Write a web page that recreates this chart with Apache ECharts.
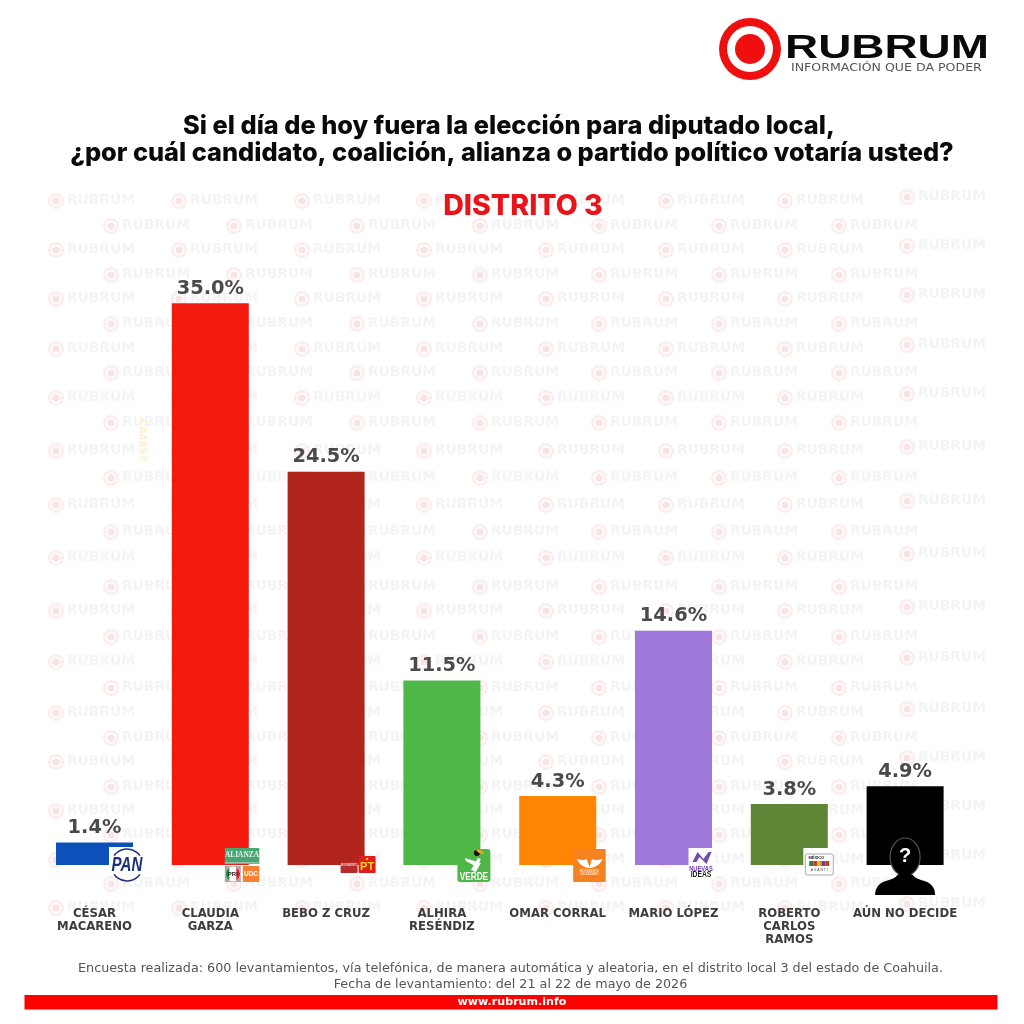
<!DOCTYPE html>
<html><head><meta charset="utf-8">
<style>html,body{margin:0;padding:0;background:#fff}#c{width:1024px;height:1024px}</style>
<script src="https://cdn.jsdelivr.net/npm/echarts@6/dist/echarts.min.js"></script>
</head><body><div id="c"></div>
<script>
const categories = ['CÉSAR\nMACARENO','CLAUDIA\nGARZA','BEBO Z CRUZ','ALHIRA\nRESÉNDIZ','OMAR CORRAL','MARIO LÓPEZ','ROBERTO\nCARLOS\nRAMOS','AÚN NO DECIDE'];
const values = [1.4,35.0,24.5,11.5,4.3,14.6,3.8,4.9];
const barColors = ['#0d50b9','#f3190e','#b1251c','#4fb748','#ff8502','#9f79da','#5f8636','#000000'];
const logoKinds = ['pan','alianza','pt','verde','mc','ni','avanti','person'];
const titleLine1 = 'Si el día de hoy fuera la elección para diputado local,';
const titleLine2 = '¿por cuál candidato, coalición, alianza o partido político votaría usted?';
const subtitleText = 'DISTRITO 3';
const footerText = 'Encuesta realizada: 600 levantamientos, vía telefónica, de manera automática y aleatoria, en el distrito local 3 del estado de Coahuila.\nFecha de levantamiento: del 21 al 22 de mayo de 2026';
const urlText = 'www.rubrum.info';

const wmRowsA = [201,250,299,349,398,451,505,558,611,662,713,762,811,860,908];
const wmRowsB = [226,275,324,373,423,478,532,587,637,688,738,787,835,884];
const wmColsA = [56,179,302,424,546,666,785,907];
const wmColsB = [111,234,357,480,599,719,839];

const W = 'DejaVu Sans';
function wm(x,y){
  return [
    {type:'circle',silent:true,shape:{cx:x,cy:y,r:6.8},style:{fill:'none',stroke:'#fdecec',lineWidth:2.4}},
    {type:'circle',silent:true,shape:{cx:x,cy:y,r:3.6},style:{fill:'#fbe3e3'}},
    {type:'text',silent:true,x:x+11,y:y-1,style:{text:'RUBRUM',fill:'#f4f4f4',font:'bold 13.8px "'+W+'"',verticalAlign:'middle',align:'left'}}
  ];
}
const bg = [];
wmRowsA.forEach(y=>wmColsA.forEach((x,i)=>bg.push(...wm(x,i===7?y-4:y))));
wmRowsB.forEach(y=>wmColsB.forEach(x=>bg.push(...wm(x,y))));

const header = [
  {type:'circle',shape:{cx:750,cy:49,r:31},style:{fill:'#f00f0f'},z:5},
  {type:'circle',shape:{cx:750,cy:49,r:23},style:{fill:'#fff'},z:5},
  {type:'circle',shape:{cx:750,cy:49,r:15},style:{fill:'#f00f0f'},z:5},
  {type:'text',x:785,y:49,scaleX:1.35,z:5,style:{text:'RUBRUM',fill:'#0a0a0a',font:'bold 34px "Liberation Sans"',verticalAlign:'middle',align:'left'}},
  {type:'text',x:791,y:68,scaleX:1.31,z:5,style:{text:'INFORMACIÓN QUE DA PODER',fill:'#555',font:'9.6px "'+W+'"',verticalAlign:'middle',align:'left'}},
  {type:'text',x:142,y:440,rotation:-Math.PI/2,style:{text:'CA4857',fill:'#fdf1cf',font:'bold 10px "'+W+'"',align:'center',verticalAlign:'middle'}},
  {type:'rect',shape:{x:24.5,y:995,width:973,height:14.5},style:{fill:'#ff0000'},z:5},
  {type:'text',x:512,y:1002.5,z:6,style:{text:urlText,fill:'#fff',font:'bold 11.1px "'+W+'"',align:'center',verticalAlign:'middle'}},
  {type:'text',x:510.5,y:977,z:5,style:{text:footerText,fill:'#555',font:'12.75px "'+W+'"',align:'center',verticalAlign:'middle',lineHeight:16}}
];

function T(text,x,y,fill,font,extra){return Object.assign({type:'text',style:{text,x,y,fill,font,align:'center',verticalAlign:'middle'}},extra||{});}
function N(text,x,y,fill,font,sx){return {type:'text',x,y,scaleX:sx,style:{text,x:0,y:0,fill,font,align:'center',verticalAlign:'middle'}};}
function R(x,y,w,h,fill,r){return {type:'rect',shape:{x,y,width:w,height:h,r:r||0},style:{fill}};}
function C(cx,cy,r,fill,stroke,lw){return {type:'circle',shape:{cx,cy,r},style:{fill:fill||'none',stroke:stroke||null,lineWidth:lw||0}};}
function P(d,fill,stroke,lw){return {type:'path',shape:{pathData:d},style:{fill,stroke:stroke||null,lineWidth:lw||0}};}
function arc(cx,cy,r,a0,a1,stroke,lw){return {type:'arc',shape:{cx,cy,r,startAngle:a0,endAngle:a1},style:{stroke,lineWidth:lw,fill:null}};}
const L = {
  pan:(x,b)=>[R(x+14.5,b-18,34,18,'#fff'),C(x+32.5,b,16.5,'#fff'),
    arc(x+32.5,b,16,Math.PI*1.2,Math.PI*1.8,'#1c2f7d',1.6),
    arc(x+32.5,b,16,Math.PI*0.2,Math.PI*0.8,'#1c2f7d',1.6),
    N('PAN',x+32.5,b+0.5,'#1c2f7d','italic bold 21px "Liberation Sans"',0.72)],
  alianza:(x,b)=>[R(x+14.5,b-17,34.5,16,'#4aa574'),R(x+14.5,b-3,34.5,1.5,'#8fc5a8'),
    T('ALIANZA',x+31.7,b-9.5,'#e8f5ee','bold 7.4px "Liberation Serif"'),
    R(x+14.5,b+1,16,16,'#a9a9a9'),C(x+22.5,b+9,7.5,'#fff'),
    P('M'+(x+19)+' '+(b+2.5)+' A7.5 7.5 0 0 0 '+(x+19)+' '+(b+15.5)+' Z','#1c8c4a'),
    P('M'+(x+26)+' '+(b+2.5)+' A7.5 7.5 0 0 1 '+(x+26)+' '+(b+15.5)+' Z','#d8252b'),
    T('PRI',x+22.5,b+9,'#222','bold 6px "Liberation Sans"'),
    R(x+32.5,b+1,16.5,16,'#f58232'),T('UDC',x+40.7,b+9,'#fff','bold 6.5px "Liberation Sans"')],
  pt:(x,b)=>[R(x+14.5,b-3,17,11,'#b92b2b',1),T('MOVIMIENTO',x+23,b+0,'#f5d0d0','bold 2.6px "Liberation Sans"'),
    R(x+32.5,b-9,17,17,'#e01f1c',1),T('PT',x+41,b+1.5,'#ffd91a','bold 11px "Liberation Sans"'),C(x+41,b-6,1.2,'#ffd91a')],
  verde:(x,b)=>[R(x+15.5,b-16,33,33,'#4fb748',3),
    P('M'+(x+23)+' '+(b-7)+' L'+(x+39)+' '+(b-2)+' L'+(x+34)+' '+(b+7)+' L'+(x+31)+' '+(b+6)+' L'+(x+33)+' '+(b+1)+' L'+(x+24)+' '+(b-4)+' Z','#fff'),
    P('M'+(x+29)+' '+(b+5)+' L'+(x+36)+' '+(b-7)+' L'+(x+39)+' '+(b-6)+' L'+(x+33)+' '+(b+6)+' Z','#fff'),
    C(x+35,b-12,3,'#111'),P('M'+(x+34)+' '+(b-15)+' Q'+(x+40)+' '+(b-16)+' '+(x+42)+' '+(b-11)+' L'+(x+37)+' '+(b-12)+' Z','#f2a51c'),
    N('VERDE',x+32,b+11.5,'#fff','bold 11px "Liberation Sans"',0.75)],
  mc:(x,b)=>[R(x+15.5,b-16,32.5,33,'#f58220',1),
    P('M'+(x+19)+' '+(b-6)+' Q'+(x+27)+' '+(b-4)+' '+(x+29)+' '+(b-6)+' L'+(x+31.7)+' '+(b+2)+' L'+(x+34.4)+' '+(b-6)+' Q'+(x+37)+' '+(b-4)+' '+(x+45)+' '+(b-6)+' Q'+(x+41)+' '+(b+2)+' '+(x+33)+' '+(b+3)+' L'+(x+30.5)+' '+(b+3)+' Q'+(x+23)+' '+(b+2)+' '+(x+19)+' '+(b-6)+' Z','#fff'),
    T('MOVIMIENTO',x+31.7,b+6,'#ffe0c4','bold 3px "Liberation Sans"'),T('CIUDADANO',x+31.7,b+9.5,'#ffe0c4','bold 3px "Liberation Sans"')],
  ni:(x,b)=>[R(x+15,b-17,27,31,'#fff'),
    P('M'+(x+19)+' '+(b-3)+' L'+(x+24)+' '+(b-13)+' L'+(x+30)+' '+(b-6)+' L'+(x+35)+' '+(b-13)+' L'+(x+38)+' '+(b-13)+' L'+(x+33)+' '+(b-1)+' L'+(x+26)+' '+(b-8)+' L'+(x+23)+' '+(b-3)+' Z','#6f4bb0'),
    N('NUEVAS',x+27.5,b+3.5,'#6f3fa8','bold 8px "Liberation Sans"',0.72),
    N('IDEAS',x+27.5,b+10,'#1a1a1a','bold 9px "Liberation Sans"',0.75)],
  avanti:(x,b)=>[R(x+14,b-17,31,18,'#fff'),
    {type:'rect',shape:{x:x+16,y:b-11,width:28,height:21,r:2},style:{fill:'#fff',stroke:'#aaa',lineWidth:1}},
    T('MÉXICO',x+27,b-7.5,'#222','bold 4px "Liberation Sans"'),
    R(x+20,b-4,4,5,'#3a7a3a'),R(x+24,b-4,4,5,'#d4352b'),R(x+28,b-4,4,5,'#e6b21a'),R(x+32,b-4,4,5,'#7a3a9a'),R(x+36,b-4,4,5,'#b0432b'),
    T('A V A N T I',x+30,b+5,'#444','3.4px "Liberation Sans"')],
  person:(x,b)=>[
    P('M'+(x-30)+' '+(b+30)+' Q'+(x-30)+' '+(b+18)+' '+(x-16)+' '+(b+15)+' Q'+(x-7)+' '+(b+12)+' '+(x-6)+' '+(b+7)+' L'+(x+6)+' '+(b+7)+' Q'+(x+7)+' '+(b+12)+' '+(x+16)+' '+(b+15)+' Q'+(x+30)+' '+(b+18)+' '+(x+30)+' '+(b+30)+' Z','#000'),
    {type:'ellipse',shape:{cx:x,cy:b-8,rx:15,ry:19},style:{fill:'#000',stroke:'#555',lineWidth:1.2}},
    P('M'+(x-6)+' '+(b+8)+' L'+(x+6)+' '+(b+8)+' L'+(x+6)+' '+(b+13)+' L'+(x-6)+' '+(b+13)+' Z','#000'),
    T('?',x,b-9,'#fff','bold 20px "Liberation Sans"')]
};

const chart = echarts.init(document.getElementById('c'),null,{renderer:'canvas'});
const titleFont = {fontFamily:'Inter',fontWeight:800,fontSize:25.35,color:'#0a0a0a'};
chart.setOption({
  animation:false,
  backgroundColor:'#fff',
  title:[
    {text:titleLine1,left:504,top:109,padding:[5,5],textAlign:'center',textStyle:titleFont},
    {text:titleLine2,left:507,top:136,padding:[5,5],textAlign:'center',textStyle:titleFont},
    {text:subtitleText,left:518,top:187,textAlign:'center',textStyle:{fontFamily:'Inter',fontWeight:800,fontSize:28.6,color:'#e9141a'}}
  ],
  grid:{left:36.6,right:61,top:223,bottom:159},
  graphic:{elements:bg.concat(header)},
  xAxis:{type:'category',data:categories,axisLine:{show:false},axisTick:{show:false},
    axisLabel:{interval:0,margin:42,fontFamily:W,fontWeight:'bold',fontSize:11.7,lineHeight:13,color:'#3d3d3d',verticalAlign:'top'}},
  yAxis:{type:'value',min:0,max:40,show:false,splitLine:{show:false}},
  series:[
    {type:'bar',barWidth:77,data:values.map((v,i)=>({value:v,itemStyle:{color:barColors[i]}})),
     label:{show:true,position:'top',distance:5,formatter:p=>p.value.toFixed(1)+'%',fontFamily:W,fontWeight:'bold',fontSize:19.4,color:'#4a4a4a'}},
    {type:'custom',z:4,clip:false,silent:true,data:logoKinds.map((k,i)=>[i,0]),
     renderItem:(params,api)=>{const pt=api.coord([api.value(0),0]);return {type:'group',children:L[logoKinds[params.dataIndex]](pt[0],pt[1])};}}
  ]
});
</script></body></html>
